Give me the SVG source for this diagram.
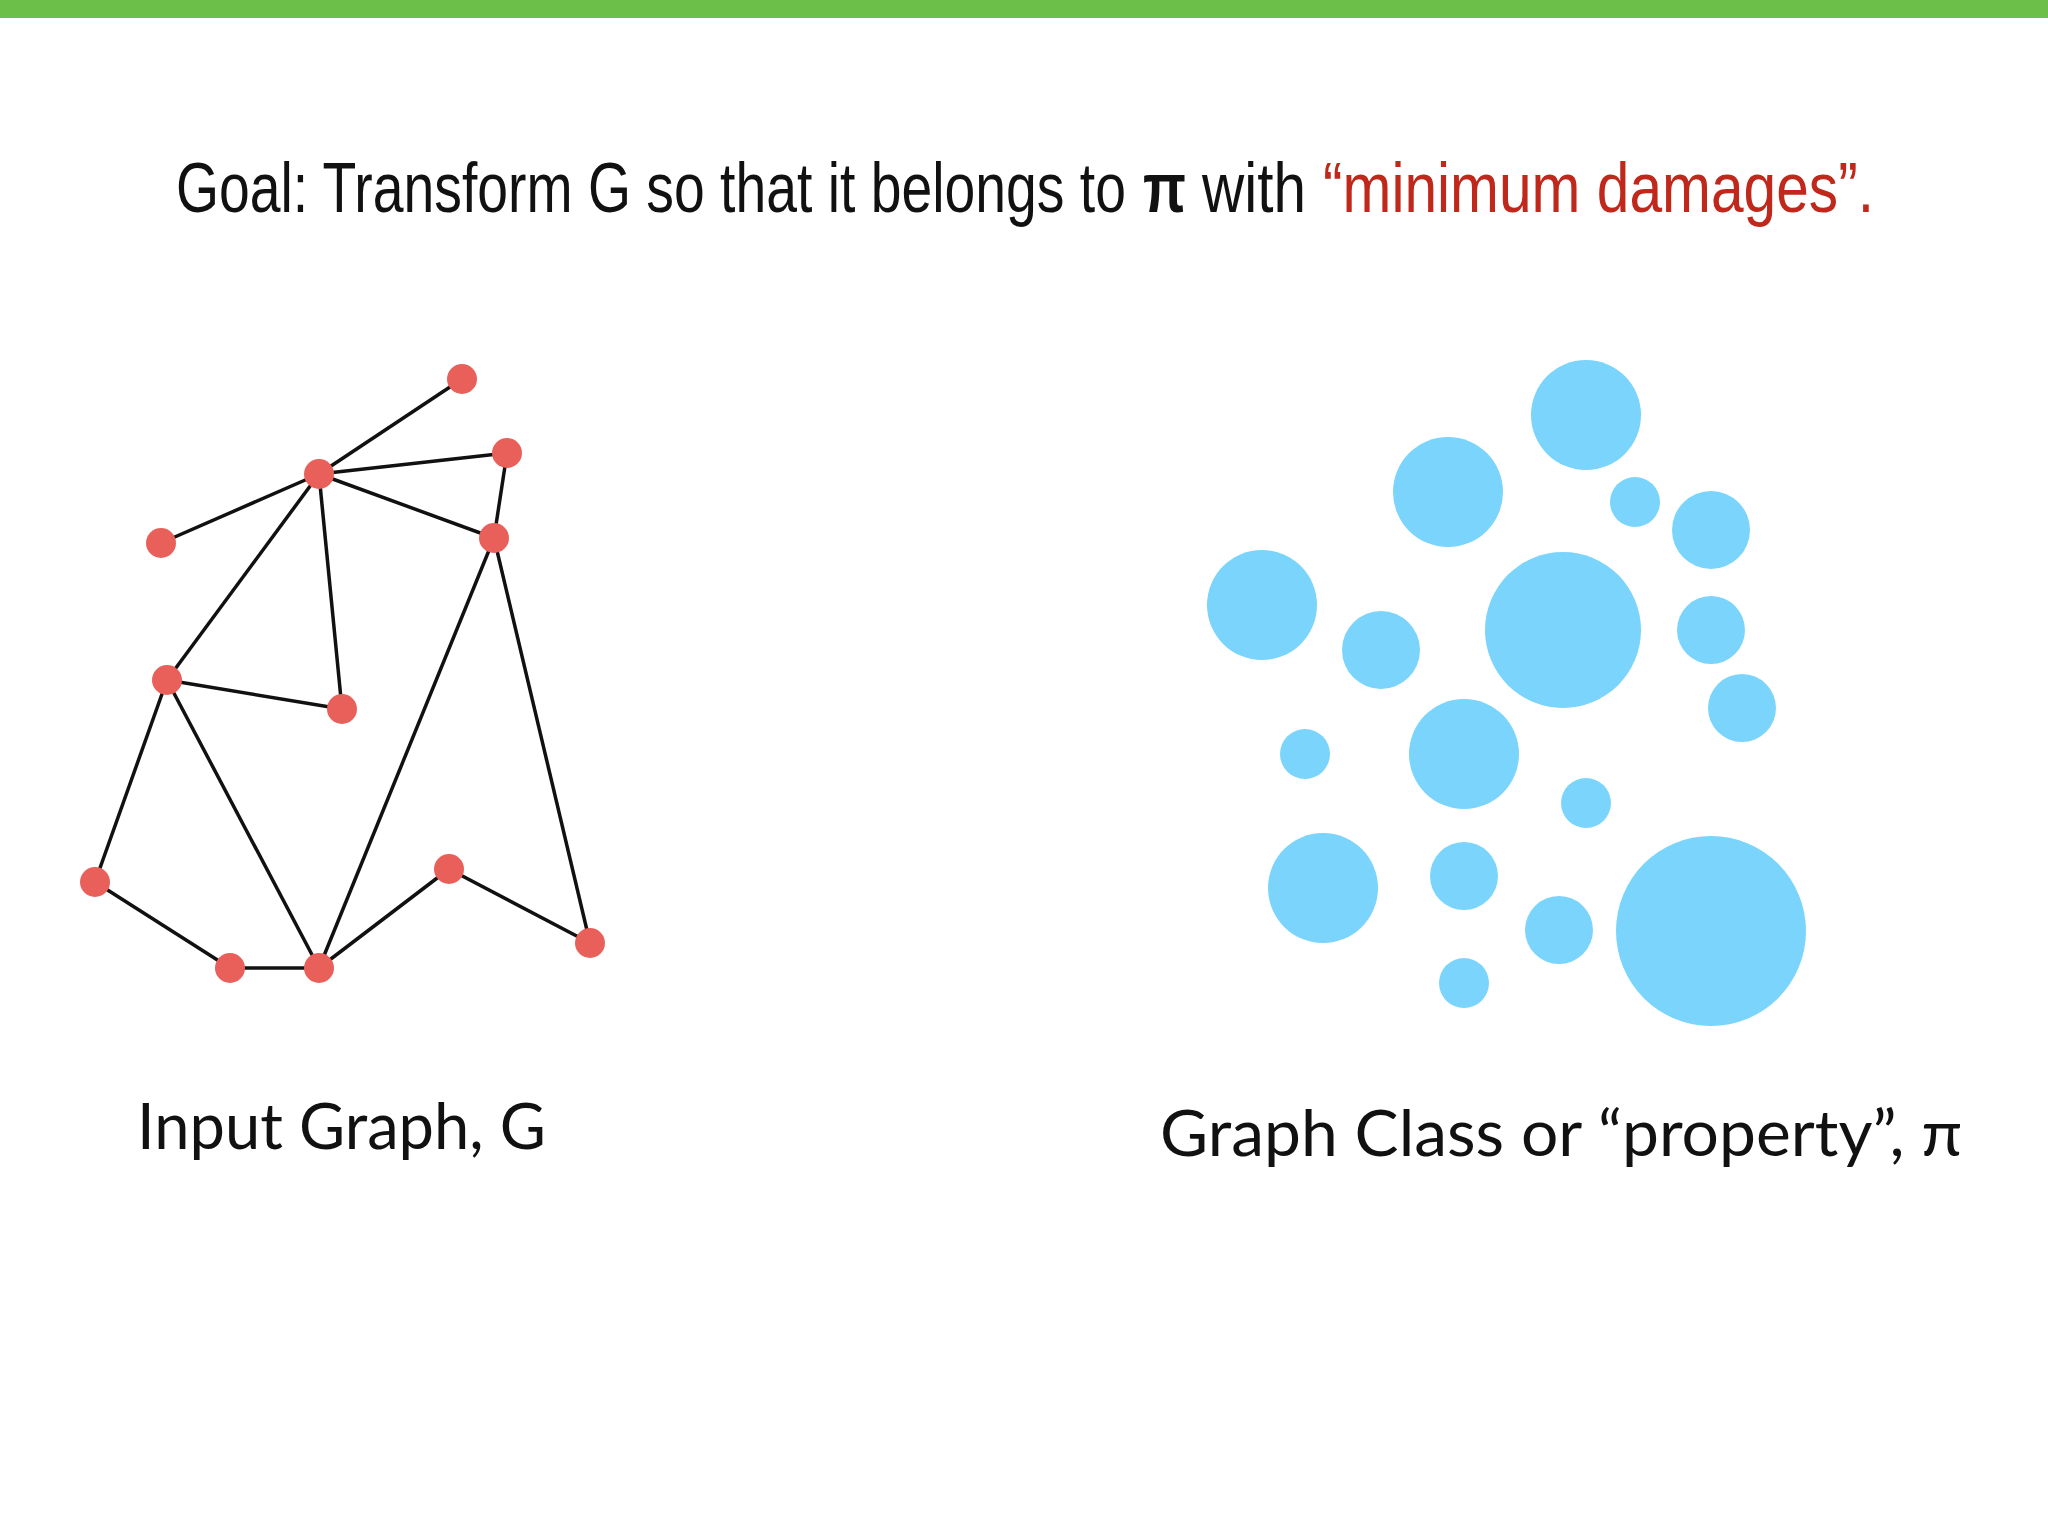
<svg xmlns="http://www.w3.org/2000/svg" width="2048" height="1536" viewBox="0 0 2048 1536">
<style>
.t{font-family:"Liberation Sans",Arial,sans-serif;font-size:70px;fill:#111}
.l{font-family:Lato,"Liberation Sans",sans-serif;font-size:64px;fill:#111}
.e{stroke:#111;stroke-width:3.5}
.n{fill:#e9605a}
.b{fill:#7ad4fc}
</style>
<rect x="0" y="0" width="2048" height="18" fill="#6cc04a"/>
<g id="title">
<text class="t" x="176" y="212" textLength="950" lengthAdjust="spacingAndGlyphs">Goal: Transform G so that it belongs to</text>
<text class="t" x="1143" y="212" font-weight="bold" textLength="43" lengthAdjust="spacingAndGlyphs">π</text>
<text class="t" x="1202" y="212" textLength="104" lengthAdjust="spacingAndGlyphs">with</text>
<text class="t" x="1323" y="212" style="fill:#c0281c" textLength="551" lengthAdjust="spacingAndGlyphs">“minimum damages”.</text>
</g>
<g id="edges">
<line class="e" x1="319" y1="474" x2="462" y2="379"/>
<line class="e" x1="319" y1="474" x2="507" y2="453"/>
<line class="e" x1="319" y1="474" x2="161" y2="543"/>
<line class="e" x1="319" y1="474" x2="494" y2="538"/>
<line class="e" x1="507" y1="453" x2="494" y2="538"/>
<line class="e" x1="319" y1="474" x2="167" y2="680"/>
<line class="e" x1="319" y1="474" x2="342" y2="709"/>
<line class="e" x1="167" y1="680" x2="342" y2="709"/>
<line class="e" x1="167" y1="680" x2="95" y2="882"/>
<line class="e" x1="167" y1="680" x2="319" y2="968"/>
<line class="e" x1="494" y1="538" x2="319" y2="968"/>
<line class="e" x1="494" y1="538" x2="590" y2="943"/>
<line class="e" x1="95" y1="882" x2="230" y2="968"/>
<line class="e" x1="230" y1="968" x2="319" y2="968"/>
<line class="e" x1="319" y1="968" x2="449" y2="869"/>
<line class="e" x1="449" y1="869" x2="590" y2="943"/>
</g>
<g id="graph-nodes">
<circle class="n" cx="462" cy="379" r="15"/>
<circle class="n" cx="507" cy="453" r="15"/>
<circle class="n" cx="319" cy="474" r="15"/>
<circle class="n" cx="161" cy="543" r="15"/>
<circle class="n" cx="494" cy="538" r="15"/>
<circle class="n" cx="167" cy="680" r="15"/>
<circle class="n" cx="342" cy="709" r="15"/>
<circle class="n" cx="95" cy="882" r="15"/>
<circle class="n" cx="449" cy="869" r="15"/>
<circle class="n" cx="590" cy="943" r="15"/>
<circle class="n" cx="230" cy="968" r="15"/>
<circle class="n" cx="319" cy="968" r="15"/>
</g>
<g id="class-bubbles">
<circle class="b" cx="1586" cy="415" r="55"/>
<circle class="b" cx="1448" cy="492" r="55"/>
<circle class="b" cx="1635" cy="502" r="25"/>
<circle class="b" cx="1711" cy="530" r="39"/>
<circle class="b" cx="1262" cy="605" r="55"/>
<circle class="b" cx="1381" cy="650" r="39"/>
<circle class="b" cx="1563" cy="630" r="78"/>
<circle class="b" cx="1711" cy="630" r="34"/>
<circle class="b" cx="1742" cy="708" r="34"/>
<circle class="b" cx="1305" cy="754" r="25"/>
<circle class="b" cx="1464" cy="754" r="55"/>
<circle class="b" cx="1586" cy="803" r="25"/>
<circle class="b" cx="1323" cy="888" r="55"/>
<circle class="b" cx="1464" cy="876" r="34"/>
<circle class="b" cx="1559" cy="930" r="34"/>
<circle class="b" cx="1711" cy="931" r="95"/>
<circle class="b" cx="1464" cy="983" r="25"/>
</g>
<g id="labels">
<text class="l" x="137" y="1149" textLength="409" lengthAdjust="spacingAndGlyphs">Input Graph, G</text>
<text class="l" x="1160" y="1156" textLength="802" lengthAdjust="spacingAndGlyphs">Graph Class or “property”, π</text>
</g>
</svg>
